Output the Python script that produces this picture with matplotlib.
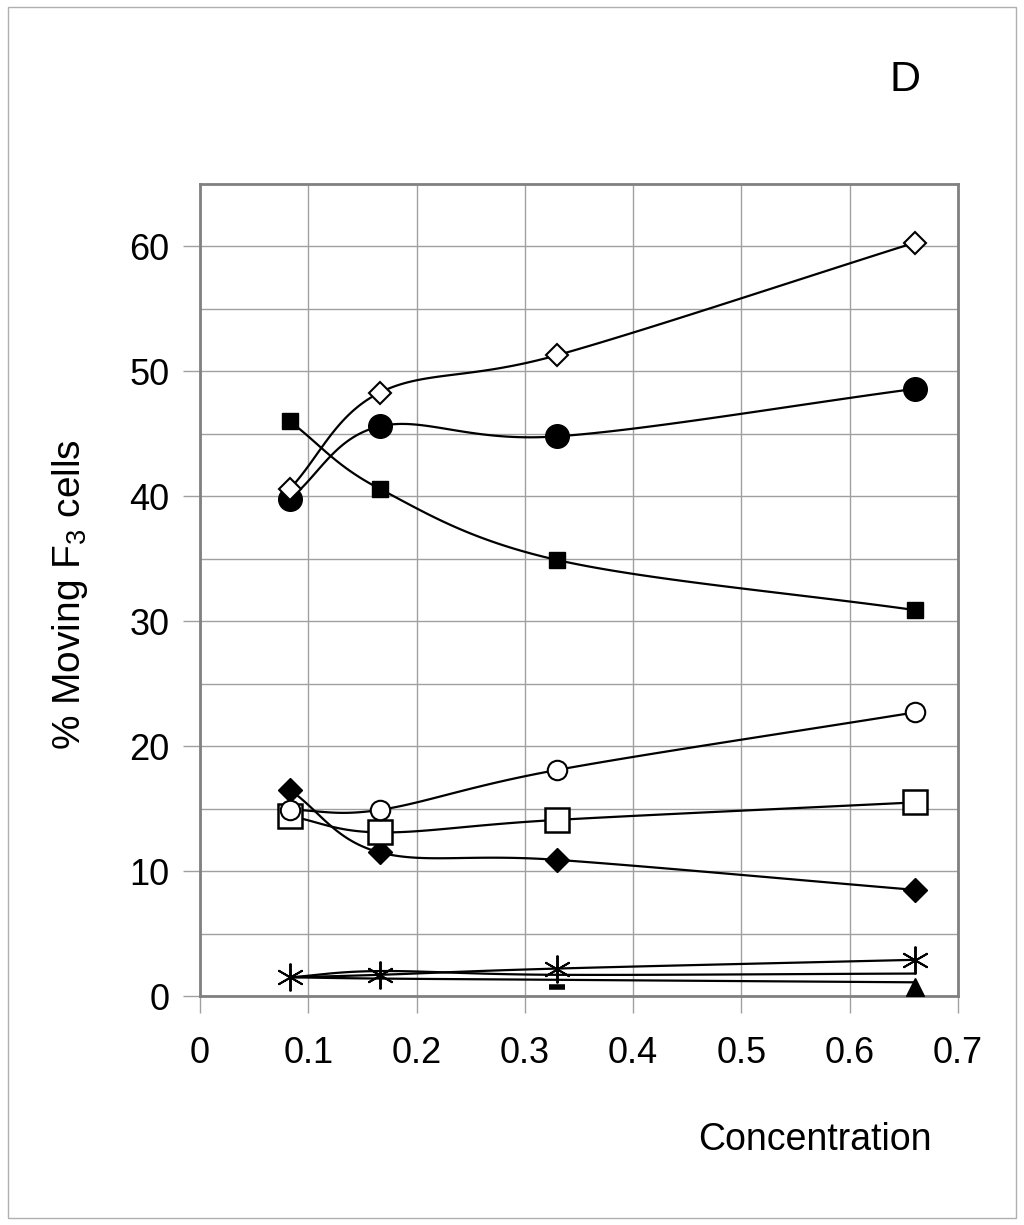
import numpy as np
import matplotlib
matplotlib.use("Agg")
import matplotlib.pyplot as plt
from matplotlib.patches import Rectangle

plt.rcParams['font.family'] = ['Liberation Sans', 'DejaVu Sans']
plt.rcParams['mathtext.fontset'] = 'custom'
plt.rcParams['mathtext.rm'] = 'Liberation Sans'

conc = [0.083, 0.166, 0.33, 0.66]
open_diamond = [40.6, 48.3, 51.3, 60.3]
filled_circle = [39.8, 45.6, 44.8, 48.6]
filled_square = [46.0, 40.6, 34.9, 30.9]
open_circle = [14.9, 14.9, 18.1, 22.7]
open_square = [14.4, 13.1, 14.1, 15.5]
filled_diamond = [16.5, 11.5, 10.9, 8.5]
asterisk = [1.5, 1.7, 2.2, 2.9]
hidden_line = [1.5, 2.0, 1.7, 1.8]
low_line = [1.5, 1.4, 1.3, 1.1]
triangle_x = [0.66]
triangle_y = [0.7]
dash_x = [0.33]
dash_y = [0.7]

x_ticks = [0, 0.1, 0.2, 0.3, 0.4, 0.5, 0.6, 0.7]
x_ticklabels = ["0", "0.1", "0.2", "0.3", "0.4", "0.5", "0.6", "0.7"]
y_ticks = [0, 10, 20, 30, 40, 50, 60]


def smooth(x, y, n=40):
    # Catmull-Rom style smoothing (like spreadsheet smoothed lines)
    x = np.asarray(x, float)
    y = np.asarray(y, float)
    px = np.concatenate([[2 * x[0] - x[1]], x, [2 * x[-1] - x[-2]]])
    py = np.concatenate([[2 * y[0] - y[1]], y, [2 * y[-1] - y[-2]]])
    xs, ys = [], []
    t = np.linspace(0, 1, n)
    for i in range(1, len(px) - 2):
        p0, p1, p2, p3 = (np.array([px[j], py[j]]) for j in range(i - 1, i + 3))
        m1 = (p2 - p0) / 6.0
        m2 = (p3 - p1) / 6.0
        c1 = p1 + m1
        c2 = p2 - m2
        b = ((1 - t) ** 3)[:, None] * p1 + (3 * (1 - t) ** 2 * t)[:, None] * c1 \
            + (3 * (1 - t) * t ** 2)[:, None] * c2 + (t ** 3)[:, None] * p2
        xs.append(b[:, 0])
        ys.append(b[:, 1])
    return np.concatenate(xs), np.concatenate(ys)


fig = plt.figure(figsize=(10.24, 12.25), dpi=100)
fig.patches.append(Rectangle((0.008, 0.006), 0.984, 0.988, transform=fig.transFigure,
                             fill=False, edgecolor="#b0b0b0", linewidth=1.0))
ax = fig.add_axes([0.1953, 0.1869, 0.7402, 0.6629])

lw = 1.6
series = [
    (low_line, None, {}),
    (hidden_line, None, {}),
    (asterisk, "x", dict(marker=(6, 2, 0), ms=20, mew=1.4, mec="black")),
    (filled_diamond, "D", dict(ms=12, mfc="black", mec="black")),
    (open_square, "s", dict(ms=17, mfc="white", mec="black", mew=1.8)),
    (open_circle, "o", dict(ms=14, mfc="white", mec="black", mew=1.5)),
    (filled_square, "s", dict(ms=11, mfc="black", mec="black")),
    (filled_circle, "o", dict(ms=17, mfc="black", mec="black")),
    (open_diamond, "D", dict(ms=11, mfc="white", mec="black", mew=1.5)),
]
for vals, mk, kw in series:
    sx, sy = smooth(conc, vals)
    ax.plot(sx, sy, color="black", lw=lw, zorder=3)
    if mk is not None:
        kw = dict(kw)
        m = kw.pop("marker", mk)
        ax.plot(conc, vals, linestyle="none", marker=m, zorder=4, **kw)

ax.plot(triangle_x, triangle_y, linestyle="none", marker="^", ms=13, mfc="black",
        mec="black", zorder=4)
ax.plot(dash_x, dash_y, linestyle="none", marker="_", ms=12, mew=4, color="black",
        zorder=4)

ax.set_xlim(0, 0.7)
ax.set_ylim(0, 65)
ax.set_xticks(x_ticks)
ax.set_xticklabels(x_ticklabels)
ax.set_yticks(y_ticks)
ax.set_yticks(np.arange(5, 65, 10), minor=True)
ax.grid(True, which="both", color="#a0a0a0", linewidth=1.0, zorder=0)
ax.set_axisbelow(True)
for s in ax.spines.values():
    s.set_color("#808080")
    s.set_linewidth(2.0)
ax.tick_params(axis="both", which="major", length=12, width=1.0, color="#a0a0a0",
               labelsize=26)
ax.tick_params(axis="x", which="major", pad=17)
ax.tick_params(axis="y", which="major", pad=10)
ax.tick_params(axis="y", which="minor", length=0)

fig.text(0.068, 0.515, "% Moving F$_3$ cells", fontsize=28, ha="center", va="center",
         rotation=90)
fig.text(0.796, 0.069, "Concentration", fontsize=27, ha="center", va="center")
fig.text(0.884, 0.935, "D", fontsize=31, ha="center", va="center")

fig.savefig("out.png", dpi=100)
